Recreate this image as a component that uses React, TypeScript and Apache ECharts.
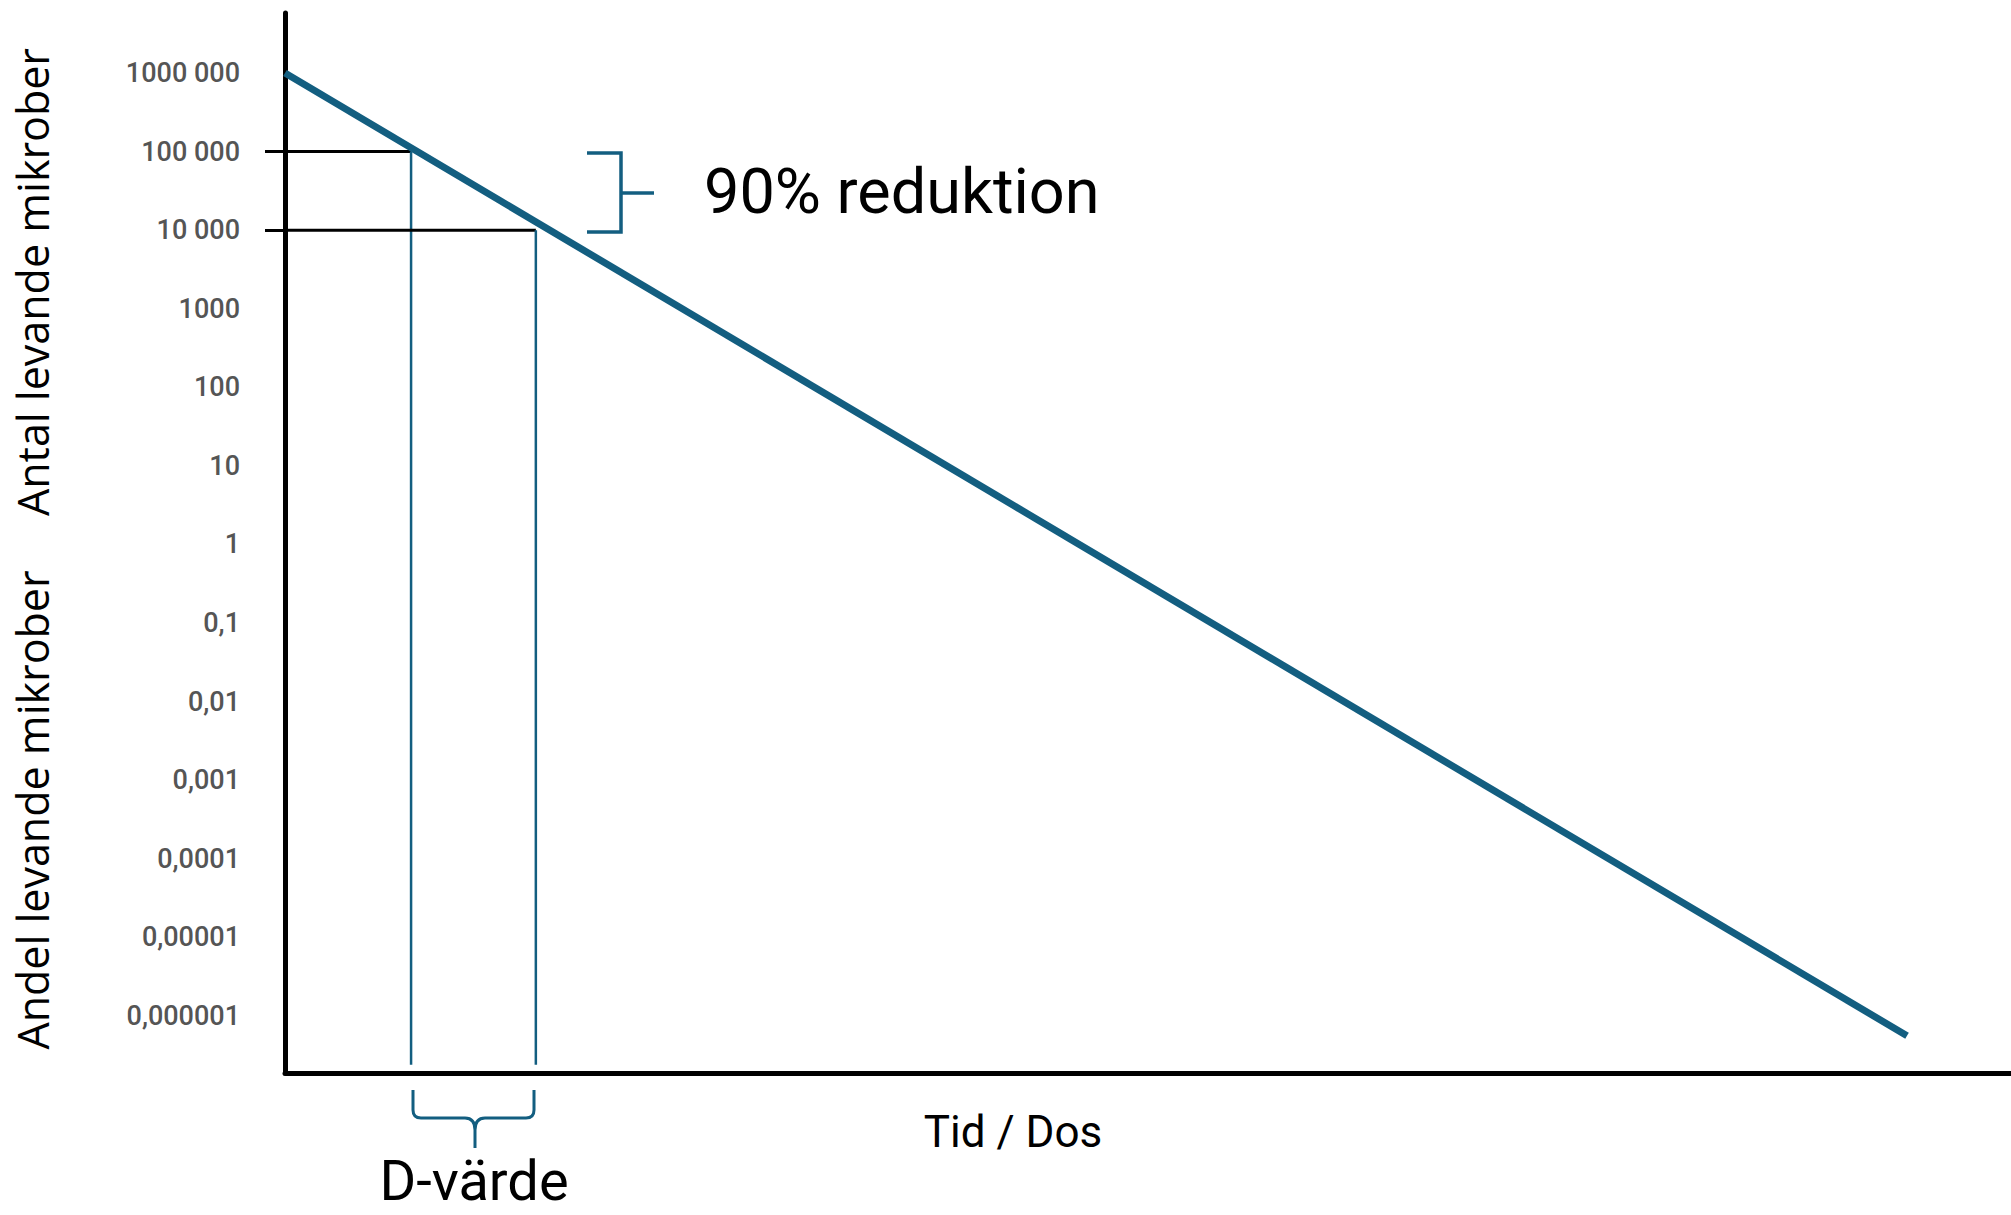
import React, { useEffect, useRef } from "react";
import * as echarts from "echarts";

// ---- data ----
const tickExponents = [-6, -5, -4, -3, -2, -1, 0, 1, 2, 3, 4, 5, 6];
const tickLabels = [
  "0,000001", "0,00001", "0,0001", "0,001", "0,01", "0,1",
  "1", "10", "100", "1000", "10 000", "100 000", "1000 000",
];

// survival curve (time in D-units, count of living microbes)
const timeValues = [0, 12.48];
const survivorCounts = [1000000, 0.00000056];

// D-value guide lines
const dTimes = [0.97, 1.93];
const dCounts = [100000, 10000];
const guideBottomCount = 0.00000024;

const yMinExp = -6.725;
const yMaxExp = 6.763;
const xMin = 0;
const xMax = 13.28;

const BLUE = "#135e80";

echarts.graphic.registerShape(
  "dbrace",
  echarts.graphic.extendPath(
    "M0 0 L0 20 Q0 28 8 28 L52 28 Q62 28 62 40 L62 58 M121 0 L121 20 Q121 28 113 28 L72 28 Q62 28 62 40",
    {}
  )
);

export default function App() {
  const ref = useRef<HTMLDivElement>(null);

  useEffect(() => {
    document.body.style.margin = "0";
    document.documentElement.style.overflow = "hidden";
    const chart = echarts.init(ref.current!, undefined, { renderer: "svg" });

    const lg = (v: number) => Math.log10(v);

    const series: any[] = [
      {
        type: "line",
        data: timeValues.map((t, i) => [t, lg(survivorCounts[i])]),
        symbol: "none",
        lineStyle: { color: BLUE, width: 7 },
        z: 5,
        clip: false,
      },
    ];
    dTimes.forEach((t, i) => {
      series.push({
        type: "line",
        data: [
          [xMin, lg(dCounts[i])],
          [t, lg(dCounts[i])],
        ],
        symbol: "none",
        lineStyle: { color: "#000", width: 3 },
        z: 3,
        clip: false,
      });
      series.push({
        type: "line",
        data: [
          [t, lg(dCounts[i])],
          [t, lg(guideBottomCount)],
        ],
        symbol: "none",
        lineStyle: { color: BLUE, width: 2.5 },
        z: 3,
        clip: false,
      });
    });

    chart.setOption({
      animation: false,
      backgroundColor: "#ffffff",
      grid: {
        left: 285,
        right: 0,
        top: 13,
        bottom: 142,
        containLabel: false,
        outerBoundsMode: "none",
      },
      xAxis: {
        type: "value",
        min: xMin,
        max: xMax,
        axisLine: { show: true, onZero: false, lineStyle: { color: "#000", width: 5 } },
        axisTick: { show: false },
        axisLabel: { show: false },
        splitLine: { show: false },
      },
      yAxis: {
        type: "value",
        min: yMinExp,
        max: yMaxExp,
        axisLine: { show: true, onZero: false, lineStyle: { color: "#000", width: 5 } },
        axisTick: {
          show: true,
          customValues: dCounts.map(lg),
          length: 20,
          lineStyle: { color: "#000", width: 3 },
        },
        splitLine: { show: false },
        axisLabel: {
          show: true,
          customValues: tickExponents,
          formatter: (v: number) => {
            const idx = tickExponents.indexOf(Math.round(v));
            return idx >= 0 ? tickLabels[idx] : "";
          },
          color: "#555555",
          fontFamily: "Roboto",
          fontWeight: 500,
          fontSize: 27,
          margin: 45,
        },
      },
      series,
      graphic: [
        {
          type: "text",
          x: 32,
          y: 282,
          rotation: Math.PI / 2,
          style: {
            text: "Antal levande mikrober",
            fontFamily: "Open Sans",
            fontSize: 43,
            fill: "#000",
            align: "center",
            verticalAlign: "middle",
          },
        },
        {
          type: "text",
          x: 32,
          y: 810,
          rotation: Math.PI / 2,
          style: {
            text: "Andel levande mikrober",
            fontFamily: "Open Sans",
            fontSize: 43,
            fill: "#000",
            align: "center",
            verticalAlign: "middle",
          },
        },
        {
          type: "polyline",
          shape: { points: [[587, 153], [621, 153], [621, 232], [587, 232]] },
          style: { stroke: BLUE, lineWidth: 3.5, fill: "none" },
        },
        {
          type: "line",
          shape: { x1: 621, y1: 193, x2: 654, y2: 193 },
          style: { stroke: BLUE, lineWidth: 3.5 },
        },
        {
          type: "text",
          x: 704,
          y: 191,
          style: {
            text: "90% reduktion",
            fontFamily: "Roboto",
            fontSize: 63,
            fill: "#000",
            align: "left",
            verticalAlign: "middle",
          },
        },
        {
          type: "dbrace",
          x: 413,
          y: 1090,
          style: { stroke: BLUE, lineWidth: 3, fill: "none" },
        },
        {
          type: "text",
          x: 474,
          y: 1181,
          style: {
            text: "D-värde",
            fontFamily: "Roboto",
            fontSize: 56,
            fill: "#000",
            align: "center",
            verticalAlign: "middle",
          },
        },
        {
          type: "text",
          x: 1013,
          y: 1132,
          style: {
            text: "Tid / Dos",
            fontFamily: "Roboto",
            fontSize: 44,
            fill: "#000",
            align: "center",
            verticalAlign: "middle",
          },
        },
      ],
    });

    return () => chart.dispose();
  }, []);

  return <div ref={ref} style={{ width: 2011, height: 1215 }} />;
}
